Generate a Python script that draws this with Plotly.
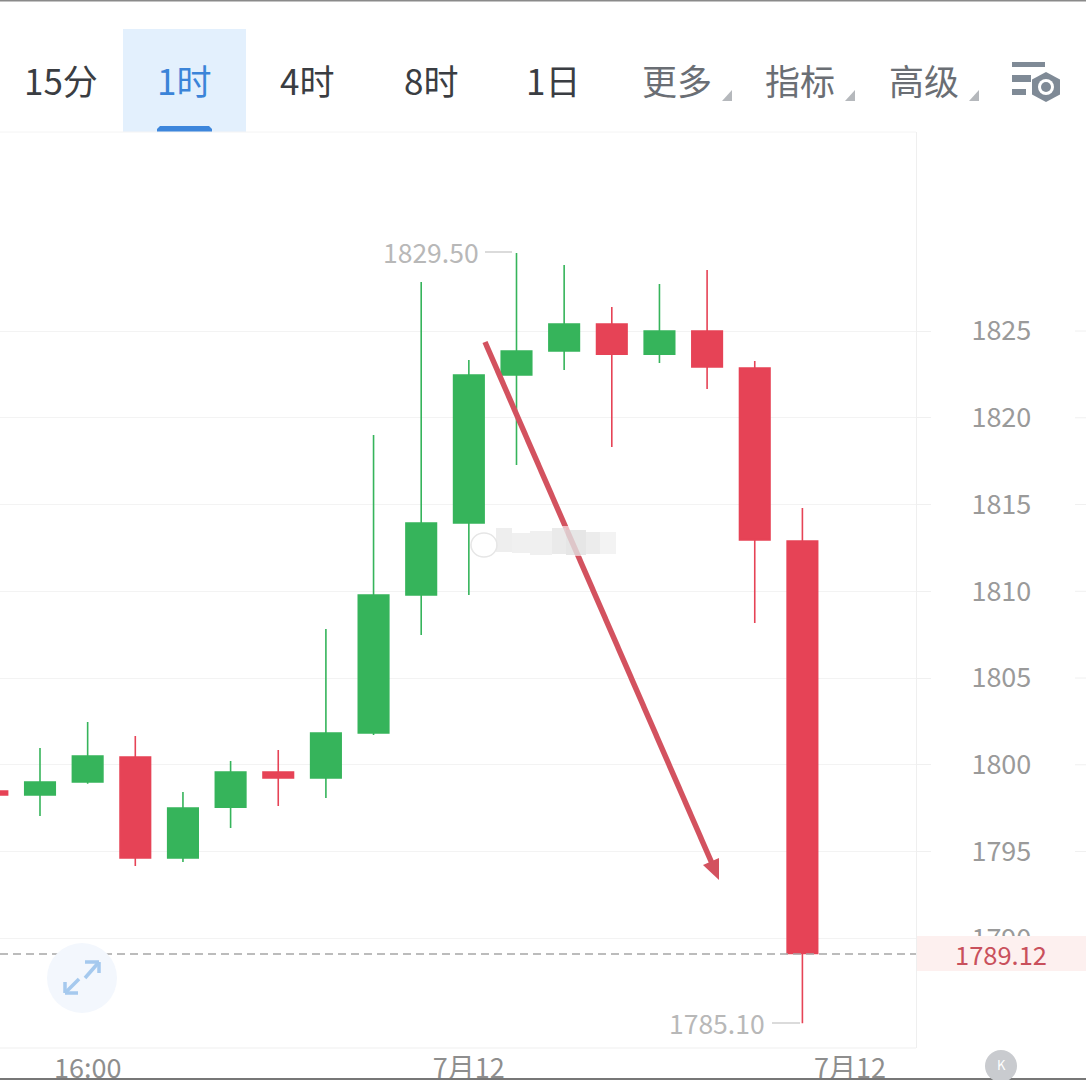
import plotly.graph_objects as go

W, H = 1086, 1080
candle_pos = list(range(-1, 17))
open_px  = [1798.49,1798.26,1799.01,1800.45,1794.63,1797.56,1799.58,1799.24,1801.83,1809.78,1813.93,1822.46,1823.85,1825.40,1823.67,1825.00,1822.87,1812.90]
close_px = [1798.26,1799.01,1800.50,1794.63,1797.51,1799.58,1799.24,1801.83,1809.78,1813.93,1822.46,1823.85,1825.40,1823.67,1825.00,1822.93,1812.95,1789.12]
high_px  = [1798.49,1800.97,1802.46,1801.66,1798.43,1800.22,1800.85,1807.82,1819.01,1827.82,1823.33,1829.50,1828.80,1826.38,1827.71,1828.52,1823.27,1814.80]
low_px   = [1798.26,1797.05,1798.90,1794.16,1794.39,1796.35,1797.62,1798.08,1801.71,1807.48,1809.78,1817.28,1822.75,1818.31,1823.16,1821.66,1808.17,1785.10]
y_ticks = [1790,1795,1800,1805,1810,1815,1820,1825]
x_tickvals = [1, 9, 17]
x_ticktext = ["16:00", "7月12", "7月12"]
tabs = ["15分", "1时", "4时", "8时", "1日", "更多", "指标", "高级"]
tab_centers = [61, 184, 307, 431, 553, 677, 800, 924]
tab_colors = ["#3a3d42","#3b84d8","#3a3d42","#3a3d42","#3a3d42","#6a6e74","#6a6e74","#6a6e74"]
last_price = 1789.12
max_price, min_price = 1829.50, 1785.10

FONT = "Noto Sans CJK SC"
RED, GREEN = "#E64356", "#36B45B"
def X(p): return p / W
def Y(p): return 1 - p / H

shapes = []
def rect(x0, y0, x1, y1, fill, layer="above", op=1):
    shapes.append(dict(type="rect", xref="paper", yref="paper", x0=X(x0), x1=X(x1), y0=Y(y0), y1=Y(y1),
                       fillcolor=fill, line_width=0, layer=layer, opacity=op))
def seg(x0, y0, x1, y1, color, w=1, dash=None, layer="above"):
    shapes.append(dict(type="line", xref="paper", yref="paper", x0=X(x0), x1=X(x1), y0=Y(y0), y1=Y(y1),
                       line=dict(color=color, width=w, dash=dash or "solid"), layer=layer))
def poly(pts, fill, lc=None, lw=0):
    path = "M " + " L ".join(f"{X(a):.5f} {Y(b):.5f}" for a, b in pts) + " Z"
    shapes.append(dict(type="path", xref="paper", yref="paper", path=path, fillcolor=fill,
                       line=dict(color=lc or fill, width=lw), layer="above"))
def circ(cx, cy, r, fill, lc=None, lw=0):
    shapes.append(dict(type="circle", xref="paper", yref="paper", x0=X(cx-r), x1=X(cx+r), y0=Y(cy-r), y1=Y(cy+r),
                       fillcolor=fill, line=dict(color=lc or fill, width=lw), layer="above"))

# toolbar
rect(123, 29, 246, 132, "#E3F0FD")
poly([(157,132),(157,129),(160,126),(209,126),(212,129),(212,132)], "#3D86DC")
for tx in (732, 855, 979):
    poly([(tx-10,101),(tx,101),(tx,90)], "#B5B8BC")
rect(1012, 62, 1045, 67, "#7F8A96")
rect(1012, 75, 1031, 82, "#7F8A96")
rect(1012, 89, 1026, 95, "#7F8A96")
poly([(1046,72),(1060,79.5),(1060,94.5),(1046,102),(1032,94.5),(1032,79.5)], "#7F8A96")
circ(1046, 87, 8, "#FFFFFF")
circ(1046, 87, 5, "#7F8A96")
seg(0, 132, 916, 132, "#F4F4F4")
seg(0, 0.5, W, 0.5, "#8a8a8a", 2)
seg(0, 1079, W, 1079, "#777777", 2)

# far-right tick stubs of the price axis
for t in y_ticks:
    shapes.append(dict(type="line", xref="paper", yref="y", x0=X(1075), x1=1, y0=t, y1=t,
                       line=dict(color="#F0F0F0", width=1), layer="above"))

# frame and price pill
seg(916.5, 132, 916.5, 1048, "#EFEFEF")
seg(0, 1048, 916, 1048, "#EFEFEF")
rect(917, 936, W, 971, "#FDF0EF")
seg(0, 954, 916, 954, "#A6A6A6", 1.4, "8px,5px")

# min/max leaders
seg(485, 252, 512, 252, "#CFCFCF", 1.5)
seg(772, 1023, 800, 1023, "#CFCFCF", 1.5)

# drawn arrow
seg(485, 342, 714, 868, "#D3525F", 5.5)
poly([(719,880),(703,865),(719,858)], "#D3525F")

# blurred watermark
rect(492, 526, 616, 556, "#FFFFFF", op=0.6)
for bx0, bx1, y0, y1, c, op in [(496,512,528,552,"#DEDEDE",0.5),(512,530,533,553,"#E2E2E2",0.5),(530,552,531,555,"#E4E4E4",0.55),
                                (552,566,528,554,"#D8D8D8",0.55),(566,586,530,555,"#D2D2D2",0.55),(586,600,532,554,"#E0E0E0",0.6),(600,616,532,554,"#ECECEC",0.65)]:
    rect(bx0, y0, bx1, y1, c, op=op)
shapes.append(dict(type="circle", xref="paper", yref="paper", x0=X(471), x1=X(497), y0=Y(533), y1=Y(557),
                   line=dict(color="#E6E6E6", width=1.5), layer="above"))

# expand button
circ(82, 978, 35, "#F3F7FD")
for a, b, c, d in [(85,978,99,962),(85,962,99,962),(99,962,99,973),(65,993,79,979),(65,982,65,993),(65,993,78,993)]:
    seg(a, b, c, d, "#A5C9EE", 3.5)

# K button
circ(1001, 1066, 16, "#C9CBCF")

ann = []
def text(x, y, s, size, color, anchor="center"):
    ann.append(dict(xref="paper", yref="paper", x=X(x), y=Y(y), text=s, showarrow=False, xanchor=anchor, yanchor="middle",
                    font=dict(family=FONT, size=size, color=color)))
for lab, cx, col in zip(tabs, tab_centers, tab_colors):
    text(cx, 79.5, lab, 35, col)
text(481, 251, f"{max_price:.2f}", 26.5, "#B8B8B8", "right")
text(767, 1022, f"{min_price:.2f}", 26.5, "#B8B8B8", "right")
text(1001, 953, f"{last_price:.2f}", 25.5, "#C9505C")
text(1001, 1064, "K", 13, "#FFFFFF")

fig = go.Figure(go.Candlestick(
    x=candle_pos, open=open_px, high=high_px, low=low_px, close=close_px,
    increasing=dict(line=dict(color=GREEN, width=1.6), fillcolor=GREEN),
    decreasing=dict(line=dict(color=RED, width=1.6), fillcolor=RED),
    whiskerwidth=0, hoverinfo="skip", showlegend=False,
))
px_per_candle = 47.65
x0_px = 40.0
px_per_unit = 17.35
fig.update_layout(
    width=W, height=H, autosize=False,
    margin=dict(l=0, r=0, t=0, b=0),
    paper_bgcolor="#FFFFFF", plot_bgcolor="#FFFFFF",
    showlegend=False, boxgap=0.36, boxgroupgap=0,
    shapes=shapes, annotations=ann,
    font=dict(family=FONT, color="#8E8E8E"),
    xaxis=dict(domain=[0, 916/W], range=[(0-x0_px)/px_per_candle, (916-x0_px)/px_per_candle],
               rangeslider=dict(visible=False), showgrid=False, zeroline=False, showline=False,
               tickmode="array", tickvals=x_tickvals, ticktext=x_ticktext, automargin=False,
               tickfont=dict(family=FONT, size=27, color="#8E8E8E"), ticks="", ticklabelstandoff=2),
    yaxis=dict(domain=[1-1048/H, 1-132/H], side="right", automargin=False,
               range=[1825-(1048-331)/px_per_unit, 1825+(331-132)/px_per_unit],
               tickmode="array", tickvals=y_ticks,
               showgrid=True, gridcolor="#F3F3F3", gridwidth=1, zeroline=False, showline=False,
               ticks="outside", ticklen=14, tickcolor="#F0F0F0", tickwidth=1, ticklabelstandoff=35,
               tickfont=dict(family=FONT, size=27, color="#9A9A9A")),
)
fig.write_html("out.html", config=dict(displayModeBar=False),
               post_script="document.body.style.margin='0';document.documentElement.style.overflow='hidden';")
